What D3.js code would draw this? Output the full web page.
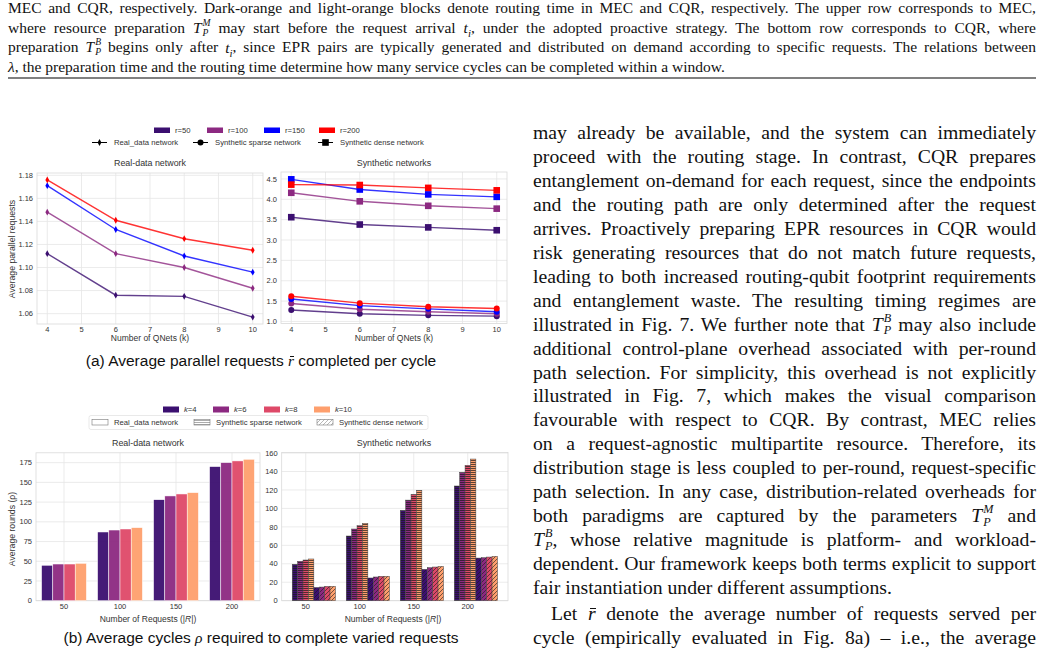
<!DOCTYPE html>
<html>
<head>
<meta charset="utf-8">
<script src="https://cdn.jsdelivr.net/npm/d3@7"></script>
<style>
body { margin:0; width:1042px; height:662px; overflow:hidden; background:#fff; position:relative;
       font-family:"Liberation Serif","Times New Roman",serif; color:#111; }
.ln { position:absolute; white-space:nowrap; text-align:justify; text-align-last:justify; }
.ln.last { text-align-last:left; }
.cap { left:8px; width:1028px; font-size:15.5px; line-height:20px; }
.col { left:533px; width:503px; font-size:19.7px; line-height:24px; }
.col.indent { text-indent:18px; }
.ss { display:inline-block; vertical-align:-0.3em; font-size:0.62em; line-height:1.05; font-style:italic;
      text-align:left; text-align-last:left; margin-left:1px; }
.ss span { display:block; }
.bar { position:relative; font-style:italic; font-family:"Liberation Serif","Times New Roman",serif; }
.bar::after { content:""; position:absolute; left:0.12em; right:-0.02em; top:0.28em; border-top:1px solid currentColor; }
.rule { position:absolute; left:8px; width:1028px; top:77px; height:2px; background:#808080; }
.figcap { position:absolute; left:0; width:522px; text-align:center; font-family:"Liberation Sans",Arial,sans-serif;
          font-size:15.5px; line-height:20px; color:#111; }
.figcap i { font-family:"Liberation Serif","Times New Roman",serif; }
svg { position:absolute; left:0; top:0; }
</style>
</head>
<body>
<script>
// ---- text ----
var TPM = '<i>T</i><span class="ss"><span>M</span><span>P</span></span>';
var TPB = '<i>T</i><span class="ss"><span>B</span><span>P</span></span>';
var RBAR = '<span class="bar">r</span>';
var topCaption = [
  'MEC and CQR, respectively. Dark-orange and light-orange blocks denote routing time in MEC and CQR, respectively. The upper row corresponds to MEC,',
  'where resource preparation ' + TPM + ' may start before the request arrival <i>t<sub style="font-size:0.7em">i</sub></i>, under the adopted proactive strategy. The bottom row corresponds to CQR, where',
  'preparation ' + TPB + ' begins only after <i>t<sub style="font-size:0.7em">i</sub></i>, since EPR pairs are typically generated and distributed on demand according to specific requests. The relations between',
  '<i>λ</i>, the preparation time and the routing time determine how many service cycles can be completed within a window.'
];
var bodyLines = [
  'may already be available, and the system can immediately',
  'proceed with the routing stage. In contrast, CQR prepares',
  'entanglement on-demand for each request, since the endpoints',
  'and the routing path are only determined after the request',
  'arrives. Proactively preparing EPR resources in CQR would',
  'risk generating resources that do not match future requests,',
  'leading to both increased routing-qubit footprint requirements',
  'and entanglement waste. The resulting timing regimes are',
  'illustrated in Fig. 7. We further note that ' + TPB + ' may also include',
  'additional control-plane overhead associated with per-round',
  'path selection. For simplicity, this overhead is not explicitly',
  'illustrated in Fig. 7, which makes the visual comparison',
  'favourable with respect to CQR. By contrast, MEC relies',
  'on a request-agnostic multipartite resource. Therefore, its',
  'distribution stage is less coupled to per-round, request-specific',
  'path selection. In any case, distribution-related overheads for',
  'both paradigms are captured by the parameters ' + TPM + ' and',
  TPB + ', whose relative magnitude is platform- and workload-',
  'dependent. Our framework keeps both terms explicit to support',
  'fair instantiation under different assumptions.',
  'Let ' + RBAR + ' denote the average number of requests served per',
  'cycle (empirically evaluated in Fig. 8a) – i.e., the average'
];
var figCaptions = [
  '(a) Average parallel requests ' + RBAR + ' completed per cycle',
  '(b) Average cycles <i>ρ</i> required to complete varied requests'
];

// ---- data (a): average parallel requests per cycle ----
var qnets = [4, 6, 8, 10];
var qnetTicks = [4, 5, 6, 7, 8, 9, 10];
var rLabels = ["r=50", "r=100", "r=150", "r=200"];
var realParallel = [
  [1.112, 1.076, 1.075, 1.057],
  [1.148, 1.112, 1.100, 1.082],
  [1.171, 1.133, 1.110, 1.096],
  [1.176, 1.141, 1.125, 1.115]
];
var sparseParallel = [
  [1.28, 1.19, 1.15, 1.13],
  [1.44, 1.30, 1.24, 1.19],
  [1.55, 1.39, 1.31, 1.24],
  [1.62, 1.45, 1.36, 1.32]
];
var denseParallel = [
  [3.56, 3.38, 3.31, 3.24],
  [4.16, 3.95, 3.84, 3.77],
  [4.49, 4.24, 4.12, 4.06],
  [4.36, 4.35, 4.28, 4.22]
];
var parallelTicksReal = [1.06, 1.08, 1.10, 1.12, 1.14, 1.16, 1.18];
var parallelTicksSyn = [1.0, 1.5, 2.0, 2.5, 3.0, 3.5, 4.0, 4.5];

// ---- data (b): average rounds, rows = k ----
var requestSizes = [50, 100, 150, 200];
var kLabels = ["4", "6", "8", "10"];
var realRounds = [
  [44.9, 87.1, 128.0, 170.0],
  [46.5, 89.6, 132.8, 175.0],
  [46.5, 90.9, 135.3, 177.2],
  [47.4, 92.6, 137.0, 179.3]
];
var sparseRounds = [
  [39.4, 70.1, 97.9, 124.3],
  [42.7, 77.7, 109.0, 139.1],
  [44.1, 81.3, 115.2, 146.7],
  [45.2, 83.8, 119.6, 153.5]
];
var denseRounds = [
  [14.3, 24.6, 34.0, 46.2],
  [14.8, 25.7, 35.8, 46.6],
  [15.5, 26.4, 36.5, 47.3],
  [15.6, 26.5, 37.2, 48.1]
];
var roundTicksReal = [0, 25, 50, 75, 100, 125, 150, 175];
var roundTicksSyn = [0, 20, 40, 60, 80, 100, 120, 140, 160];

// colours
var rColors = ["#3b0f70", "#8c2981", "#0000ff", "#ff0000"];
var kColors = ["#3b0f70", "#8c2981", "#de4968", "#fe9f6d"];

// ---- text blocks ----
d3.select("body").selectAll("div.cap").data(topCaption).join("div")
  .attr("class", function(d, i) { return "ln cap" + (i === topCaption.length - 1 ? " last" : ""); })
  .style("top", function(d, i) { return (-2 + i * 19.7) + "px"; })
  .html(function(d) { return d; });
d3.select("body").append("div").attr("class", "rule");

d3.select("body").selectAll("div.col").data(bodyLines).join("div")
  .attr("class", function(d, i) { return "ln col" + (i === 19 ? " last" : "") + (i === 20 ? " indent" : ""); })
  .style("top", function(d, i) { return (i < 20 ? 120 + i * 23.95 : 120 + 19 * 23.95 + 26 + (i - 20) * 24) + "px"; })
  .html(function(d) { return d; });

d3.select("body").selectAll("div.figcap").data(figCaptions).join("div")
  .attr("class", "figcap")
  .style("top", function(d, i) { return (i === 0 ? 351 : 628) + "px"; })
  .html(function(d) { return d; });

// ---- svg for the figures ----
var svg = d3.select("body").append("svg").attr("width", 1042).attr("height", 662)
  .style("font-family", '"Liberation Sans", Arial, sans-serif');
var defs = svg.append("defs");
var ink = "#333";

// hatch patterns: horizontal (sparse) and diagonal (dense)
function makeHatch(id, fill, stroke, diag) {
  var p = defs.append("pattern").attr("id", id).attr("patternUnits", "userSpaceOnUse")
    .attr("width", 4).attr("height", diag ? 4 : 2);
  p.append("rect").attr("width", 4).attr("height", diag ? 4 : 2).attr("fill", fill);
  if (diag) {
    p.append("path").attr("d", "M-1,1L1,-1M0,4L4,0M3,5L5,3")
      .attr("stroke", stroke).attr("stroke-width", 0.6);
  } else {
    p.append("line").attr("x1", 0).attr("x2", 4).attr("y1", 0.5).attr("y2", 0.5)
      .attr("stroke", stroke).attr("stroke-width", 0.7);
  }
}
kColors.forEach(function(c, i) {
  makeHatch("hz" + i, c, "#1a1a1a", false);
  makeHatch("dg" + i, c, "#1a1a1a", true);
});
makeHatch("hzL", "#fff", "#888", false);
makeHatch("dgL", "#fff", "#888", true);

// grid + frame for one panel
function frame(x, y, xTicks, yTicks, yFmt, xPos) {
  var xr = x.range(), yr = y.range();
  var g = svg.append("g");
  g.selectAll("line.gx").data(xTicks).join("line")
    .attr("x1", xPos).attr("x2", xPos).attr("y1", yr[0]).attr("y2", yr[1])
    .attr("stroke", "#e6e6e6").attr("stroke-width", 0.8);
  g.selectAll("line.gy").data(yTicks).join("line")
    .attr("x1", xr[0]).attr("x2", xr[1]).attr("y1", y).attr("y2", y)
    .attr("stroke", "#e6e6e6").attr("stroke-width", 0.8);
  g.selectAll("text.ty").data(yTicks).join("text")
    .attr("x", xr[0] - 4).attr("y", y).attr("dy", "0.35em").attr("text-anchor", "end")
    .attr("font-size", 7.5).attr("fill", ink).text(yFmt);
  g.selectAll("text.tx").data(xTicks).join("text")
    .attr("x", xPos).attr("y", yr[0] + 5.8).attr("dy", "0.35em").attr("text-anchor", "middle")
    .attr("font-size", 7.5).attr("fill", ink).text(function(d) { return d; });
  g.append("rect").attr("x", xr[0]).attr("y", yr[1]).attr("width", xr[1] - xr[0]).attr("height", yr[0] - yr[1])
    .attr("fill", "none").attr("stroke", "#d9d9d9").attr("stroke-width", 0.8);
  return g;
}
function label(x, y, txt, size, anchor) {
  return svg.append("text").attr("x", x).attr("y", y).attr("dy", "0.35em")
    .attr("text-anchor", anchor || "middle").attr("font-size", size).attr("fill", ink).text(txt);
}
function yLabel(x, y, txt) {
  return svg.append("text").attr("transform", "translate(" + x + "," + y + ") rotate(-90)")
    .attr("dy", "0.35em").attr("text-anchor", "middle").attr("font-size", 8.7).attr("fill", ink).text(txt);
}

var diamond = "M0,-3.4L1.9,0L0,3.4L-1.9,0Z";
function marker(sel, kind, color) {
  if (kind === "d") sel.append("path").attr("d", diamond).attr("fill", color);
  else if (kind === "o") sel.append("circle").attr("r", 3).attr("fill", color);
  else sel.append("rect").attr("x", -3.3).attr("y", -3.3).attr("width", 6.6).attr("height", 6.6).attr("fill", color);
}
function series(x, y, vals, color, kind) {
  var line = d3.line().x(function(d, i) { return x(qnets[i]); }).y(function(d) { return y(d); });
  svg.append("path").attr("d", line(vals)).attr("fill", "none").attr("stroke", color)
    .attr("stroke-width", 1.4).attr("stroke-opacity", 0.8);
  vals.forEach(function(v, i) {
    var m = svg.append("g").attr("transform", "translate(" + x(qnets[i]) + "," + y(v) + ")");
    marker(m, kind, color);
  });
}

// ================= (a) =================
// legend
rLabels.forEach(function(l, i) {
  var lx = [175, 228, 285, 340][i];
  svg.append("rect").attr("x", lx - 21).attr("y", 127.5).attr("width", 16).attr("height", 5.5).attr("fill", rColors[i]);
  label(lx, 130.5, l, 7.7, "start");
});
[["Real_data network", "d", 92], ["Synthetic sparse network", "o", 193], ["Synthetic dense network", "s", 318]]
  .forEach(function(e) {
    svg.append("line").attr("x1", e[2]).attr("x2", e[2] + 15).attr("y1", 142.5).attr("y2", 142.5).attr("stroke", "#000").attr("stroke-width", 1);
    var m = svg.append("g").attr("transform", "translate(" + (e[2] + 7.5) + ",142.5)");
    marker(m, e[1], "#000");
    label(e[2] + 22, 142.5, e[0], 7.7, "start");
  });

var xa1 = d3.scaleLinear().domain([3.7, 10.3]).range([37, 263]);
var ya1 = d3.scaleLinear().domain([1.051, 1.182]).range([324, 173]);
frame(xa1, ya1, qnetTicks, parallelTicksReal, d3.format(".2f"), xa1);
realParallel.forEach(function(vals, i) { series(xa1, ya1, vals, rColors[i], "d"); });
label(150, 163, "Real-data network", 8.9);
label(150, 338.5, "Number of QNets (k)", 8.5);
yLabel(12, 249, "Average parallel requests");

var xa2 = d3.scaleLinear().domain([3.7, 10.3]).range([281, 507]);
var ya2 = d3.scaleLinear().domain([0.95, 4.67]).range([323.5, 172]);
frame(xa2, ya2, qnetTicks, parallelTicksSyn, d3.format(".1f"), xa2);
sparseParallel.forEach(function(vals, i) { series(xa2, ya2, vals, rColors[i], "o"); });
denseParallel.forEach(function(vals, i) { series(xa2, ya2, vals, rColors[i], "s"); });
label(394, 163, "Synthetic networks", 8.9);
label(394, 338.5, "Number of QNets (k)", 8.5);

// ================= (b) =================
kLabels.forEach(function(k, i) {
  var lx = [184, 234, 285, 335][i];
  svg.append("rect").attr("x", lx - 21).attr("y", 406.5).attr("width", 16).attr("height", 6).attr("fill", kColors[i]);
  var t = label(lx, 409.5, "", 7.7, "start");
  t.append("tspan").attr("font-style", "italic").text("k");
  t.append("tspan").text("=" + k);
});
svg.append("rect").attr("x", 89).attr("y", 415.5).attr("width", 339).attr("height", 14).attr("rx", 2)
  .attr("fill", "#fff").attr("stroke", "#e3e3e3").attr("stroke-width", 0.8);
[["Real_data network", "#fff", 92], ["Synthetic sparse network", "url(#hzL)", 194], ["Synthetic dense network", "url(#dgL)", 317]]
  .forEach(function(e) {
    svg.append("rect").attr("x", e[2]).attr("y", 419.5).attr("width", 16).attr("height", 5.5)
      .attr("fill", e[1]).attr("stroke", "#777").attr("stroke-width", 0.6);
    label(e[2] + 22, 422.5, e[0], 7.7, "start");
  });

// real-data bars
var xb1 = d3.scaleBand().domain(requestSizes).range([36, 260]).paddingInner(0.2).paddingOuter(0.1);
var xb1k = d3.scaleBand().domain(d3.range(4)).range([0, xb1.bandwidth()]);
var yb1 = d3.scaleLinear().domain([0, 187.5]).range([600.7, 452.8]);
frame(xb1, yb1, requestSizes, roundTicksReal, d3.format("d"), function(d) { return xb1(d) + xb1.bandwidth() / 2; });
realRounds.forEach(function(row, k) {
  svg.append("g").selectAll("rect").data(row).join("rect")
    .attr("x", function(d, j) { return xb1(requestSizes[j]) + xb1k(k); })
    .attr("width", xb1k.bandwidth())
    .attr("y", function(d) { return yb1(d); })
    .attr("height", function(d) { return yb1(0) - yb1(d); })
    .attr("fill", kColors[k]).attr("fill-opacity", 0.95)
    .attr("stroke", "#fff").attr("stroke-width", 0.5);
});
label(148, 443, "Real-data network", 8.9);
var xlb1 = label(148, 619, "Number of Requests (|", 8.5);
xlb1.append("tspan").attr("font-style", "italic").text("R");
xlb1.append("tspan").text("|)");
yLabel(12, 529, "Average rounds (ρ)");

// synthetic bars: 4 sparse then 4 dense per request size
var xb2 = d3.scaleBand().domain(requestSizes).range([281.7, 508]).paddingInner(0.2).paddingOuter(0.195);
var xb2k = d3.scaleBand().domain(d3.range(8)).range([0, xb2.bandwidth()]);
var yb2 = d3.scaleLinear().domain([0, 160.6]).range([600.7, 452.5]);
frame(xb2, yb2, requestSizes, roundTicksSyn, d3.format("d"), function(d) { return xb2(d) + xb2k.bandwidth() * 2.5; });
[[sparseRounds, "hz", 0], [denseRounds, "dg", 4]].forEach(function(set) {
  set[0].forEach(function(row, k) {
    svg.append("g").selectAll("rect").data(row).join("rect")
      .attr("x", function(d, j) { return xb2(requestSizes[j]) + xb2k(set[2] + k); })
      .attr("width", xb2k.bandwidth())
      .attr("y", function(d) { return yb2(d); })
      .attr("height", function(d) { return yb2(0) - yb2(d); })
      .attr("fill", "url(#" + set[1] + k + ")")
      .attr("stroke", "#444").attr("stroke-width", 0.5);
  });
});
label(394, 443, "Synthetic networks", 8.9);
var xlb2 = label(393, 619, "Number of Requests (|", 8.5);
xlb2.append("tspan").attr("font-style", "italic").text("R");
xlb2.append("tspan").text("|)");
</script>
</body>
</html>
